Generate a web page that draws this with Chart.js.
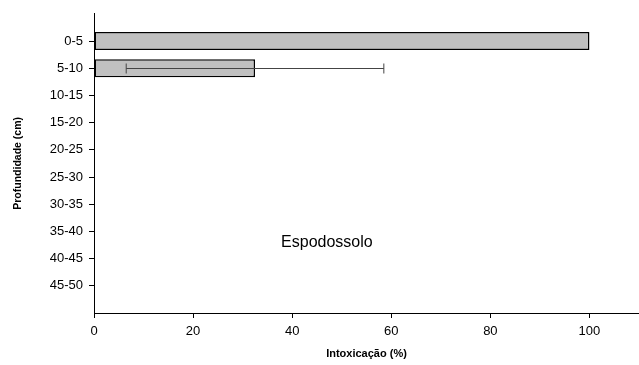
<!DOCTYPE html>
<html>
<head>
<meta charset="utf-8">
<script src="https://cdn.jsdelivr.net/npm/chart.js@4/dist/chart.umd.min.js"></script>
<style>
  html, body { margin: 0; padding: 0; background: #fff; }
  #wrap { width: 639px; height: 365px; position: relative; }
</style>
</head>
<body>
<div id="wrap"><canvas id="myChart"></canvas></div>
<script>
// profundidades (cm) e intoxicação (%) com erro
const profundidades = ['0-5', '5-10', '10-15', '15-20', '20-25', '25-30', '30-35', '35-40', '40-45', '45-50']
const intoxicacao = [100, 32.5, null, null, null, null, null, null, null, null]
const erro = [null, 26, null, null, null, null, null, null, null, null]
const xTicks = [0, 20, 40, 60, 80, 100]
const rotulo = 'Espodossolo'

// espaço vazio no topo e no fim do eixo
const labels = [''].concat(profundidades, [''])
const valores = [null].concat(intoxicacao, [null])
const erros = [null].concat(erro, [null])

const fonte = "'Liberation Sans', Arial, sans-serif"

const errorBars = {
  id: 'errorBars',
  afterDatasetsDraw(chart) {
    const ctx = chart.ctx
    const x = chart.scales.x
    const y = chart.scales.y
    ctx.save()
    ctx.strokeStyle = '#444'
    ctx.lineWidth = 1
    valores.forEach((v, i) => {
      if (v == null || erros[i] == null) return
      const yp = Math.round(y.getPixelForValue(i)) + 0.5
      const x1 = x.getPixelForValue(v - erros[i])
      const x2 = x.getPixelForValue(v + erros[i])
      ctx.beginPath()
      ctx.moveTo(x1, yp); ctx.lineTo(x2, yp)
      ctx.moveTo(x1, yp - 5); ctx.lineTo(x1, yp + 5)
      ctx.moveTo(x2, yp - 5); ctx.lineTo(x2, yp + 5)
      ctx.stroke()
    })
    // rótulo do solo
    ctx.fillStyle = '#000'
    ctx.font = '16px ' + fonte
    ctx.textAlign = 'center'
    ctx.textBaseline = 'middle'
    ctx.fillText(rotulo, x.getPixelForValue(47), y.getPixelForValue(8.4))
    ctx.restore()
  }
}

const config = {
  type: 'bar',
  data: {
    labels: labels,
    datasets: [{
      data: valores,
      backgroundColor: '#c0c0c0',
      borderColor: '#000',
      borderWidth: 1.5,
      borderSkipped: false,
      categoryPercentage: 1,
      barPercentage: 0.66
    }]
  },
  options: {
    indexAxis: 'y',
    responsive: true,
    maintainAspectRatio: false,
    animation: false,
    layout: { padding: { top: 12, right: 0, bottom: 0, left: 12 } },
    plugins: { legend: { display: false }, tooltip: { enabled: false } },
    scales: {
      x: {
        type: 'linear',
        min: 0,
        max: 110,
        afterBuildTicks: (s) => { s.ticks = xTicks.map(v => ({ value: v })) },
        ticks: { color: '#000', font: { family: fonte, size: 13 }, padding: 6 },
        grid: { drawOnChartArea: false, drawTicks: true, tickLength: 5, color: '#000' },
        border: { display: true, color: '#000', width: 1 },
        title: {
          display: true, text: 'Intoxicação (%)', color: '#000',
          font: { family: fonte, size: 11, weight: 'bold' }, padding: { top: 8 }
        },
        afterFit: (s) => { s.height = 52 }
      },
      y: {
        type: 'category',
        offset: false,
        ticks: { color: '#000', font: { family: fonte, size: 13 }, padding: 6, autoSkip: false },
        grid: {
          offset: false,
          drawOnChartArea: false, drawTicks: true, tickLength: 5,
          color: (c) => (c.tick && c.tick.label === '') ? 'rgba(0,0,0,0)' : '#000'
        },
        border: { display: true, color: '#000', width: 1 },
        title: {
          display: true, text: 'Profundidade (cm)', color: '#000',
          font: { family: fonte, size: 10.5, weight: 'bold' }, padding: 0
        },
        afterFit: (s) => { s.width = 82 }
      }
    }
  },
  plugins: [errorBars]
}

const myChart = new Chart(document.getElementById('myChart'), config)
</script>
</body>
</html>
